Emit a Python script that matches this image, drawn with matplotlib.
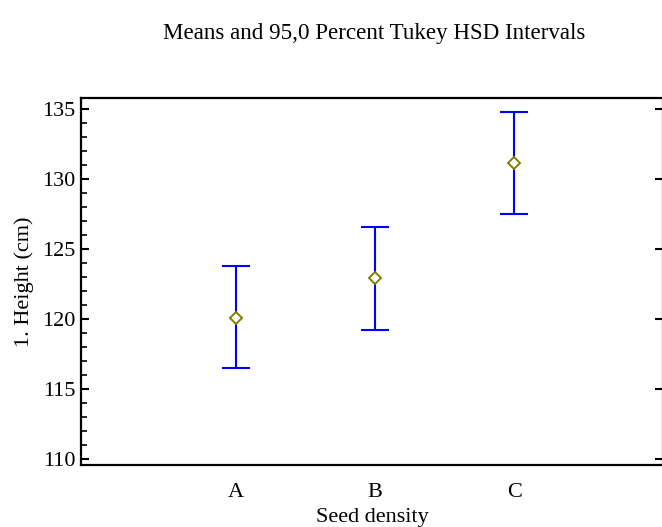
import matplotlib
matplotlib.use("Agg")
import matplotlib.pyplot as plt
from matplotlib.ticker import MultipleLocator

categories = ["A", "B", "C"]
means = [120.1, 122.9, 131.15]
lower = [116.5, 119.2, 127.5]
upper = [123.8, 126.6, 134.8]

plt.rcParams['font.family'] = ['Liberation Serif', 'DejaVu Serif']

fig = plt.figure(figsize=(6.62, 5.27), dpi=100)
ax = fig.add_axes([81/662, 1-465/527, (663-81)/662, (465-98)/527])

pos = [1, 2, 3]
yerr = [[m - l for m, l in zip(means, lower)], [u - m for m, u in zip(means, upper)]]
ax.errorbar(pos, means, yerr=yerr, fmt='none', ecolor='#0000ff', elinewidth=1.5,
            capsize=10, capthick=1.5)
ax.plot(pos, means, linestyle='none', marker='D', markersize=6.5,
        markerfacecolor='white', markeredgecolor='#808000', markeredgewidth=1.4)

ax.set_xlim(-0.115, 4.07)
ax.set_ylim(109.57, 135.79)
ax.set_xticks(pos)
ax.set_xticklabels(categories)
ax.yaxis.set_major_locator(MultipleLocator(5))
ax.yaxis.set_minor_locator(MultipleLocator(1))
ax.tick_params(axis='y', which='major', direction='in', length=6, width=1.5,
               labelsize=16, right=True, pad=4)
ax.tick_params(axis='y', which='minor', direction='in', length=4, width=1.2, right=False)
ax.tick_params(axis='x', which='major', length=0, labelsize=16, pad=13)
for s in ax.spines.values():
    s.set_linewidth(1.6)

ax.set_xlabel("Seed density", fontsize=16, labelpad=4)
ax.set_ylabel("1. Height (cm)", fontsize=16, labelpad=6)
fig.text(374.5/662, 1-33/527, "Means and 95,0 Percent Tukey HSD Intervals",
         ha='center', va='center', fontsize=16.6)

fig.savefig("out.png", dpi=100)
